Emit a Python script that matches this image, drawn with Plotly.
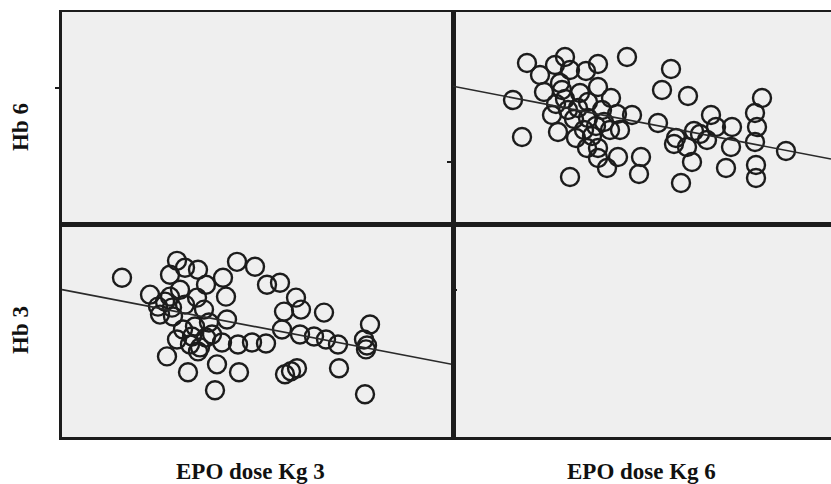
import numpy as np
import plotly.graph_objects as go
from plotly.subplots import make_subplots

# ---- data ----
# EPO dose per kg at month 6 vs Hb at month 6
epo_kg6 = [74, 112, 102, 145, 174, 218, 87, 117, 133, 107, 109, 91, 145, 127, 60, 112, 135, 158,
           209, 235, 309, 99, 115, 121, 135, 149, 164, 179, 205, 258, 302, 69, 105, 123, 139, 157,
           167, 134, 145, 241, 263, 279, 304, 221, 234, 254, 278, 302, 333, 145, 165, 188, 154,
           239, 273, 303, 117, 186, 228, 303, 103, 125, 151, 143, 223, 247, 131]
hb6 = [13.45, 13.75, 13.35, 13.4, 13.75, 13.15, 12.85, 13.1, 13.05, 12.45, 12.1, 12.0, 12.25, 11.95,
       11.6, 11.65, 11.5, 11.7, 12.1, 11.8, 11.7, 10.85, 11.1, 10.65, 10.7, 11.1, 10.9, 10.85, 10.45,
       10.85, 10.95, 9.75, 10.0, 9.7, 9.8, 10.1, 10.1, 9.2, 9.2, 10.05, 10.25, 10.25, 10.25, 9.4,
       9.25, 9.6, 9.25, 9.5, 9.05, 8.7, 8.75, 8.75, 8.2, 8.5, 8.2, 8.35, 7.75, 7.9, 7.45, 7.7,
       11.4, 11.2, 10.5, 10.3, 9.7, 9.9, 10.1]

# EPO dose per kg at month 3 vs Hb at month 3
epo_kg3 = [60, 115, 108, 123, 136, 175, 193, 161, 144, 205, 218, 88, 108, 135, 164, 96, 110, 142,
           98, 111, 234, 222, 239, 262, 308, 165, 133, 147, 115, 130, 144, 160, 176, 190, 204, 220,
           238, 252, 264, 276, 302, 304, 305, 105, 136, 138, 155, 126, 177, 223, 229, 235, 277,
           153, 303, 103, 123, 121, 150, 128, 118]
hb3 = [13.35, 14.2, 13.5, 13.85, 13.75, 14.15, 13.9, 13.35, 13.0, 13.0, 13.1, 12.5, 12.4, 12.35,
       12.4, 11.9, 11.85, 11.75, 11.5, 11.4, 12.35, 11.65, 11.75, 11.6, 11.0, 11.25, 10.9, 11.1,
       10.25, 10.4, 10.35, 10.1, 10.0, 10.1, 10.05, 10.75, 10.5, 10.4, 10.25, 10.0, 10.25, 9.75,
       9.95, 9.4, 9.65, 9.85, 9.0, 8.6, 8.6, 8.5, 8.65, 8.8, 8.8, 7.7, 7.5, 12.15, 12.0, 10.75,
       10.5, 10.0, 12.75]

row_labels = ["Hb 6", "Hb 3"]
col_labels = ["EPO dose Kg 3", "EPO dose Kg 6"]

x_range_left = [0, 391]
x_range_right = [0, 378]
y_range = [5.35, 16]

ink = "#1c1c1c"
bg = "#efefef"

fig = make_subplots(rows=2, cols=2, horizontal_spacing=0, vertical_spacing=0)

marker = dict(symbol="circle-open", size=18, color=ink, line=dict(width=2.4, color=ink))

fig.add_trace(go.Scatter(x=epo_kg6, y=hb6, mode="markers", marker=marker, showlegend=False),
              row=1, col=2)
fig.add_trace(go.Scatter(x=epo_kg3, y=hb3, mode="markers", marker=marker, showlegend=False),
              row=2, col=1)

# empty diagonal panels (kept so their frames and backgrounds render)
fig.add_trace(go.Scatter(x=[None], y=[None], mode="markers", showlegend=False, hoverinfo="skip"),
              row=1, col=1)
fig.add_trace(go.Scatter(x=[None], y=[None], mode="markers", showlegend=False, hoverinfo="skip"),
              row=2, col=2)

# least-squares fit lines
b6, a6 = np.polyfit(epo_kg6, hb6, 1)
b3, a3 = np.polyfit(epo_kg3, hb3, 1)
fx6 = np.array(x_range_right, dtype=float)
fx3 = np.array(x_range_left, dtype=float)
fig.add_trace(go.Scatter(x=fx6, y=a6 + b6 * fx6, mode="lines", line=dict(color="#2a2a2a", width=1.6),
                         showlegend=False, hoverinfo="skip"), row=1, col=2)
fig.add_trace(go.Scatter(x=fx3, y=a3 + b3 * fx3, mode="lines", line=dict(color="#2a2a2a", width=1.6),
                         showlegend=False, hoverinfo="skip"), row=2, col=1)

W, H = 831, 484
xl0, xm, xr1 = 62 / W, 453 / W, 1.0
yt1, ym, yb0 = 1 - 12 / H, 1 - 225 / H, 1 - 437 / H

common = dict(showgrid=False, zeroline=False, showticklabels=False, showline=True,
              linecolor=ink, linewidth=2)

# axes: 1 = top-left, 2 = top-right, 3 = bottom-left, 4 = bottom-right
fig.update_layout(
    xaxis=dict(domain=[xl0, xm], range=x_range_left, ticks="", mirror=True, **common),
    yaxis=dict(domain=[ym, yt1], range=y_range, ticks="outside", tickvals=[12.2], ticklen=4,
               tickwidth=2, tickcolor=ink, mirror=True, **common),
    xaxis2=dict(domain=[xm, xr1], range=x_range_right, ticks="", mirror=True, **common),
    yaxis2=dict(domain=[ym, yt1], range=y_range, ticks="outside", tickvals=[8.5], ticklen=4,
                tickwidth=2, tickcolor=ink, mirror=False, **common),
    xaxis3=dict(domain=[xl0, xm], range=x_range_left, ticks="", mirror=True, **common),
    yaxis3=dict(domain=[yb0, ym], range=y_range, ticks="", mirror=True, **common),
    xaxis4=dict(domain=[xm, xr1], range=x_range_right, ticks="", mirror=True, **common),
    yaxis4=dict(domain=[yb0, ym], range=y_range, ticks="inside", tickvals=[12.75], ticklen=4,
                tickwidth=2, tickcolor=ink, mirror=False, **common),
)
fig.update_yaxes(linewidth=3, row=2, col=1)
fig.update_yaxes(linewidth=3, row=1, col=1)
fig.update_xaxes(linewidth=3, row=2, col=1)
fig.update_xaxes(linewidth=3, row=2, col=2)

title_font = dict(family="Liberation Serif, Times New Roman, serif", size=23, color="#111")
ann = dict(xref="paper", yref="paper", showarrow=False, font=title_font,
           xanchor="center", yanchor="middle")
fig.add_annotation(text="<b>" + row_labels[0] + "</b>", x=20 / W, y=1 - 127 / H, textangle=-90, **ann)
fig.add_annotation(text="<b>" + row_labels[1] + "</b>", x=20 / W, y=1 - 330 / H, textangle=-90, **ann)
fig.add_annotation(text="<b>" + col_labels[0] + "</b>", x=250 / W, y=1 - 471 / H, **ann)
fig.add_annotation(text="<b>" + col_labels[1] + "</b>", x=641 / W, y=1 - 471 / H, **ann)

fig.update_layout(width=W, height=H, margin=dict(l=0, r=0, t=0, b=0),
                  paper_bgcolor="white", plot_bgcolor=bg)

fig.write_html("out.html")
